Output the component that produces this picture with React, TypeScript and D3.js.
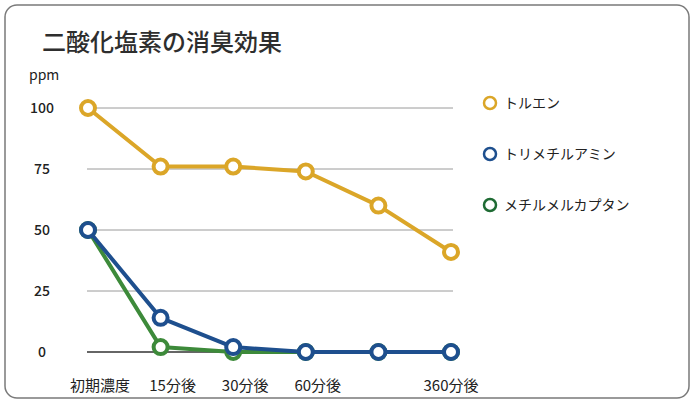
import {useEffect, useRef} from 'react';
import * as d3 from 'd3';

const categories = ['初期濃度', '15分後', '30分後', '60分後', '', '360分後'];
const yTicks = [0, 25, 50, 75, 100];
const seriesNames = ['トルエン', 'トリメチルアミン', 'メチルメルカプタン'];
const toluene = [100, 76, 76, 74, 60, 41];
const trimethylamine = [50, 14, 2, 0, 0, 0];
const methylMercaptan = [50, 2, 0, 0, 0, 0];
const lineColors = ['#dba628', '#1e4f8e', '#3d8a3a'];
const legendColors = ['#dba628', '#1e4f8e', '#1f6b34'];

const W = 692;
const H = 401;
const FONT = '"Noto Sans CJK JP", "Noto Sans", sans-serif';

export default function App() {
  const svgRef = useRef<SVGSVGElement>(null);

  useEffect(() => {
    if (!svgRef.current) return;
    const svg = d3.select(svgRef.current);
    svg.selectAll('*').remove();

    svg.append('rect').attr('width', W).attr('height', H).attr('fill', '#ffffff');
    svg
      .append('rect')
      .attr('x', 5)
      .attr('y', 5)
      .attr('width', 684)
      .attr('height', 393)
      .attr('rx', 12)
      .attr('fill', '#ffffff')
      .attr('stroke', '#7a7a7a')
      .attr('stroke-width', 1.5);

    const x = d3.scalePoint<number>().domain(d3.range(categories.length)).range([88, 451]);
    const y = d3.scaleLinear().domain([0, 100]).range([352, 108]);

    // title
    svg
      .append('text')
      .attr('x', 42)
      .attr('y', 51)
      .attr('fill', '#2e2e2e')
      .attr('font-family', FONT)
      .attr('font-size', 24)
      .attr('font-weight', 500)
      .text('二酸化塩素の消臭効果');

    svg
      .append('text')
      .attr('x', 29)
      .attr('y', 80)
      .attr('fill', '#222')
      .attr('font-family', FONT)
      .attr('font-size', 14)
      .text('ppm');

    // gridlines
    svg
      .append('g')
      .selectAll('line')
      .data(yTicks)
      .join('line')
      .attr('x1', 87)
      .attr('x2', 453)
      .attr('y1', (d) => y(d))
      .attr('y2', (d) => y(d))
      .attr('stroke', (d) => (d === 0 ? '#333' : '#9a9a9a'))
      .attr('stroke-width', (d) => (d === 0 ? 1.5 : 1));

    svg
      .append('g')
      .selectAll('text')
      .data(yTicks)
      .join('text')
      .attr('x', 42)
      .attr('y', (d) => y(d) + 5)
      .attr('text-anchor', 'middle')
      .attr('fill', '#222')
      .attr('font-family', FONT)
      .attr('font-size', 14)
      .attr('font-weight', 500)
      .text((d) => String(d));

    svg
      .append('g')
      .selectAll('text')
      .data(categories)
      .join('text')
      .attr('x', (d, i) => (x(i) as number) + (i === categories.length - 1 ? 0 : 12))
      .attr('y', 391)
      .attr('text-anchor', 'middle')
      .attr('fill', '#222')
      .attr('font-family', FONT)
      .attr('font-size', 15)
      .text((d) => d);

    const allSeries = [methylMercaptan, trimethylamine, toluene];
    const order = [2, 1, 0];
    const line = d3
      .line<number>()
      .x((d, i) => x(i) as number)
      .y((d) => y(d));

    allSeries.forEach((values, k) => {
      const color = lineColors[order[k]];
      const g = svg.append('g');
      g.append('path')
        .attr('d', line(values))
        .attr('fill', 'none')
        .attr('stroke', color)
        .attr('stroke-width', 4)
        .attr('stroke-linejoin', 'round');
      g.selectAll('circle')
        .data(values)
        .join('circle')
        .attr('cx', (d, i) => x(i) as number)
        .attr('cy', (d) => y(d))
        .attr('r', 7)
        .attr('fill', '#fff')
        .attr('stroke', color)
        .attr('stroke-width', 4);
    });

    // legend
    const legend = svg
      .append('g')
      .selectAll('g')
      .data(seriesNames)
      .join('g')
      .attr('transform', (d, i) => `translate(490,${103 + i * 51})`);
    legend
      .append('circle')
      .attr('r', 6)
      .attr('fill', '#fff')
      .attr('stroke', (d, i) => legendColors[i])
      .attr('stroke-width', 2.5);
    legend
      .append('text')
      .attr('x', 14)
      .attr('y', 5)
      .attr('fill', '#222')
      .attr('font-family', FONT)
      .attr('font-size', 14)
      .text((d) => d);
  }, []);

  return (
    <svg
      ref={svgRef}
      width={W}
      height={H}
      style={{position: 'absolute', left: 0, top: 0, display: 'block'}}
    />
  );
}
